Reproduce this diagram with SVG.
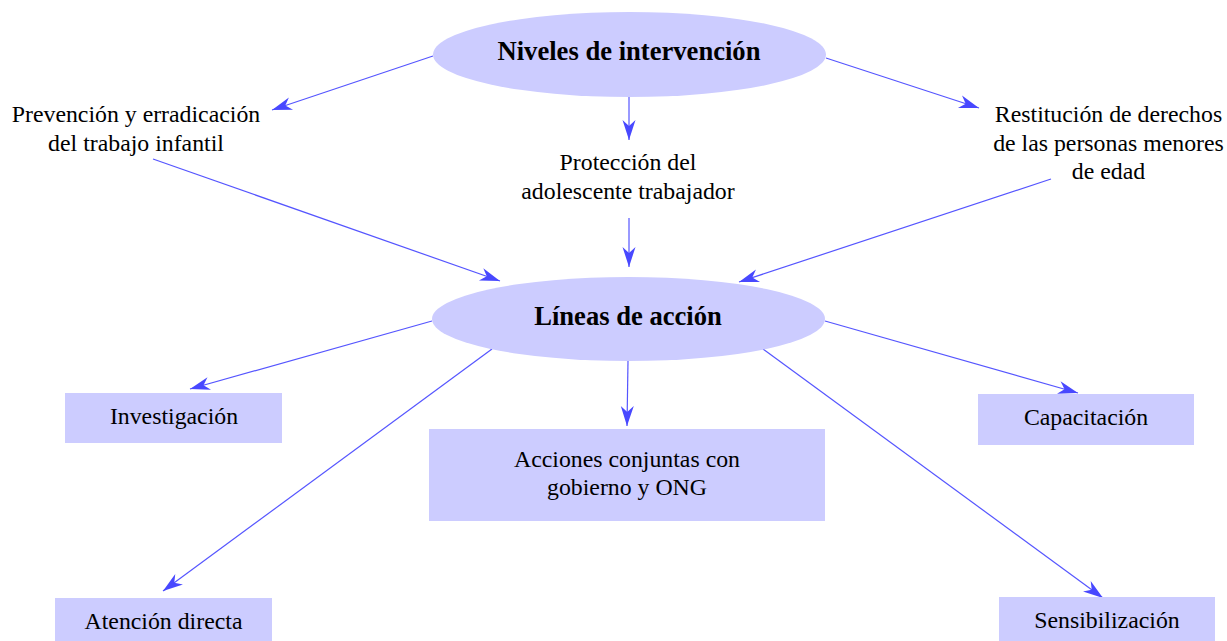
<svg xmlns="http://www.w3.org/2000/svg" width="1227" height="641" viewBox="0 0 1227 641">
<style>
.t{font-family:"Liberation Serif","Times New Roman",serif;font-size:23.8px;fill:#000;text-anchor:middle}
.b{font-family:"Liberation Serif","Times New Roman",serif;font-size:26.6px;font-weight:bold;fill:#000;text-anchor:middle}
.n{fill:#ccccff;stroke:none}
.c{stroke:#5555ff;stroke-width:1.2;fill:none;marker-end:url(#ah)}
</style>
<defs>
<marker id="ah" viewBox="-21 -8 22 16" refX="0" refY="0" markerWidth="22" markerHeight="16" markerUnits="userSpaceOnUse" orient="auto">
<path d="M0,0 L-20,-6.5 L-14,0 L-20,6.5 Z" fill="#4848ff"/>
</marker>
</defs>
<rect width="1227" height="641" fill="#ffffff"/>
<g id="connectors">
<line class="c" x1="433" y1="56" x2="272" y2="110"/>
<line class="c" x1="629" y1="97" x2="629" y2="140"/>
<line class="c" x1="826" y1="58" x2="979" y2="108"/>
<line class="c" x1="153" y1="159" x2="500" y2="281"/>
<line class="c" x1="629" y1="218" x2="629" y2="267"/>
<line class="c" x1="1051" y1="179" x2="739" y2="282"/>
<line class="c" x1="432" y1="321" x2="190" y2="389"/>
<line class="c" x1="492" y1="349" x2="163" y2="591"/>
<line class="c" x1="628" y1="361" x2="627" y2="426"/>
<line class="c" x1="825" y1="321" x2="1078" y2="393"/>
<line class="c" x1="763" y1="349" x2="1103" y2="598"/>
</g>
<g id="niveles">
<ellipse class="n" cx="629.5" cy="54.5" rx="196.5" ry="42.5"/>
<text class="b" x="629" y="60">Niveles de intervención</text>
</g>
<g id="prevencion">
<text class="t" x="136" y="122">Prevención y erradicación</text>
<text class="t" x="136" y="151">del trabajo infantil</text>
</g>
<g id="proteccion">
<text class="t" x="628" y="170">Protección del</text>
<text class="t" x="628" y="199">adolescente trabajador</text>
</g>
<g id="restitucion">
<text class="t" x="1108.5" y="122">Restitución de derechos</text>
<text class="t" x="1108.5" y="151">de las personas menores</text>
<text class="t" x="1108.5" y="179">de edad</text>
</g>
<g id="lineas">
<ellipse class="n" cx="628.5" cy="319" rx="196.5" ry="42"/>
<text class="b" x="628" y="325">Líneas de acción</text>
</g>
<g id="investigacion">
<rect class="n" x="65" y="393" width="217" height="50"/>
<text class="t" x="174" y="424">Investigación</text>
</g>
<g id="acciones">
<rect class="n" x="429" y="429" width="396" height="92"/>
<text class="t" x="627" y="467">Acciones conjuntas con</text>
<text class="t" x="627" y="495">gobierno y ONG</text>
</g>
<g id="capacitacion">
<rect class="n" x="978" y="394" width="216" height="51"/>
<text class="t" x="1086" y="425">Capacitación</text>
</g>
<g id="atencion">
<rect class="n" x="55" y="598" width="217" height="50"/>
<text class="t" x="163.5" y="629">Atención directa</text>
</g>
<g id="sensibilizacion">
<rect class="n" x="999" y="597" width="216" height="50"/>
<text class="t" x="1107" y="628">Sensibilización</text>
</g>
</svg>
